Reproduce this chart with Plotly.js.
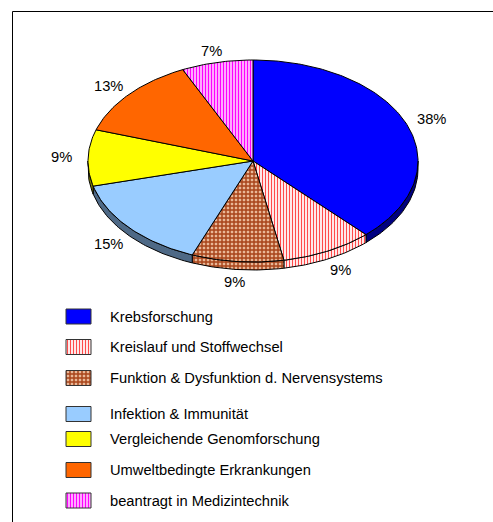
<!DOCTYPE html>
<html>
<head>
<meta charset="utf-8">
<script src="https://cdn.plot.ly/plotly-3.0.1.min.js"></script>
<style>html,body{margin:0;padding:0;background:#fff;}#chart{width:493px;height:522px;}</style>
</head>
<body>
<div id="chart"></div>
<script>
// ---- data ----
const categories = [
  "Krebsforschung",
  "Kreislauf und Stoffwechsel",
  "Funktion & Dysfunktion d. Nervensystems",
  "Infektion & Immunität",
  "Vergleichende Genomforschung",
  "Umweltbedingte Erkrankungen",
  "beantragt in Medizintechnik"
];
const values = [38, 9, 9, 15, 9, 13, 7];

// ---- styles (kept apart from data) ----
const sliceStyles = [
  {color: '#0000FF', side: '#000080'},
  {color: '#FFFFFF', side: '#FFFFFF', pattern: {shape: '|', fgcolor: '#FF4A4A', bgcolor: '#FFE8E8', size: 3, solidity: 0.35}},
  {color: '#FFFFFF', side: '#FFFFFF', pattern: {shape: '+', fgcolor: '#A8441A', bgcolor: '#E9B898', size: 4, solidity: 0.6}},
  {color: '#99CCFF', side: '#4E6986'},
  {color: '#FFFF00', side: '#808000'},
  {color: '#FF6600', side: '#803300'},
  {color: '#FFFFFF', side: '#FFFFFF', pattern: {shape: '|', fgcolor: '#FF00FF', bgcolor: '#FFCCFF', size: 3, solidity: 0.45}}
];
const pie = {cx: 253, cy: 161, rx: 165, ry: 101, depth: 8, labelRx: 192, labelRy: 113};
const legendLayout = {swatchX0: 66, swatchX1: 91, swatchH: 15, textX: 108, rowY: [316.5, 347, 378, 414, 439, 470, 500.5]};
const font = {family: 'Liberation Sans, Arial, sans-serif', size: 14.7, color: '#000'};

function pt(deg, dy) {
  const r = deg * Math.PI / 180;
  return [pie.cx + pie.rx * Math.sin(r), pie.cy - pie.ry * Math.cos(r) + (dy || 0)];
}
function fillTrace(xs, ys, st, useSide) {
  const t = {
    type: 'scatter', mode: 'lines', x: xs, y: ys, fill: 'toself',
    fillcolor: useSide ? st.side : st.color,
    line: {color: '#000', width: 1}, hoverinfo: 'skip', showlegend: false
  };
  if (st.pattern) t.fillpattern = Object.assign({fillmode: 'replace'}, st.pattern);
  return t;
}

const total = values.reduce((a, b) => a + b, 0);
const rims = [], tops = [], annotations = [];
let start = 0;
values.forEach((v, i) => {
  const a = start, b = start + v / total * 360;
  start = b;
  const st = sliceStyles[i];
  // side (rim) visible on the lower half
  const a2 = Math.max(a, 90), b2 = Math.min(b, 270);
  if (a2 < b2) {
    const xs = [], ys = [];
    const n = Math.max(2, Math.ceil(b2 - a2));
    for (let k = 0; k <= n; k++) { const p = pt(a2 + (b2 - a2) * k / n); xs.push(p[0]); ys.push(p[1]); }
    for (let k = n; k >= 0; k--) { const p = pt(a2 + (b2 - a2) * k / n, pie.depth); xs.push(p[0]); ys.push(p[1]); }
    xs.push(xs[0]); ys.push(ys[0]);
    rims.push(fillTrace(xs, ys, st, true));
  }
  // top face
  const xs = [pie.cx], ys = [pie.cy];
  const n = Math.max(2, Math.ceil(b - a));
  for (let k = 0; k <= n; k++) { const p = pt(a + (b - a) * k / n); xs.push(p[0]); ys.push(p[1]); }
  xs.push(pie.cx); ys.push(pie.cy);
  tops.push(fillTrace(xs, ys, st, false));
  // percentage label
  const m = (a + b) / 2 * Math.PI / 180;
  const s = Math.sin(m), c = Math.cos(m);
  annotations.push({
    x: pie.cx + pie.labelRx * s,
    y: pie.cy - pie.labelRy * c + (c < 0 ? pie.depth : 0),
    xref: 'x', yref: 'y', text: Math.round(v / total * 100) + '%',
    showarrow: false, font: font, xanchor: 'center', yanchor: 'middle'
  });
});

// legend
const legendTraces = [];
categories.forEach((name, i) => {
  const y = legendLayout.rowY[i], h = legendLayout.swatchH / 2;
  const x0 = legendLayout.swatchX0, x1 = legendLayout.swatchX1;
  const t = fillTrace([x0, x1, x1, x0, x0], [y - h, y - h, y + h, y + h, y - h], sliceStyles[i], false);
  t.line = {color: '#333', width: 1};
  legendTraces.push(t);
  annotations.push({
    x: legendLayout.textX, y: y, xref: 'x', yref: 'y', text: name,
    showarrow: false, font: font, xanchor: 'left', yanchor: 'middle'
  });
});

const layout = {
  width: 493, height: 522,
  margin: {l: 0, r: 0, t: 0, b: 0},
  paper_bgcolor: '#fff', plot_bgcolor: '#fff',
  xaxis: {range: [0, 493], visible: false, fixedrange: true},
  yaxis: {range: [522, 0], visible: false, fixedrange: true},
  showlegend: false, hovermode: false,
  annotations: annotations,
  shapes: [
    {type: 'line', xref: 'x', yref: 'y', x0: 12.5, x1: 493, y0: 11.5, y1: 11.5, line: {color: '#000', width: 1}},
    {type: 'line', xref: 'x', yref: 'y', x0: 12.5, x1: 12.5, y0: 11.5, y1: 522, line: {color: '#000', width: 1}}
  ]
};

Plotly.newPlot('chart', rims.concat(tops, legendTraces), layout, {displayModeBar: false, staticPlot: true});
</script>
</body>
</html>
